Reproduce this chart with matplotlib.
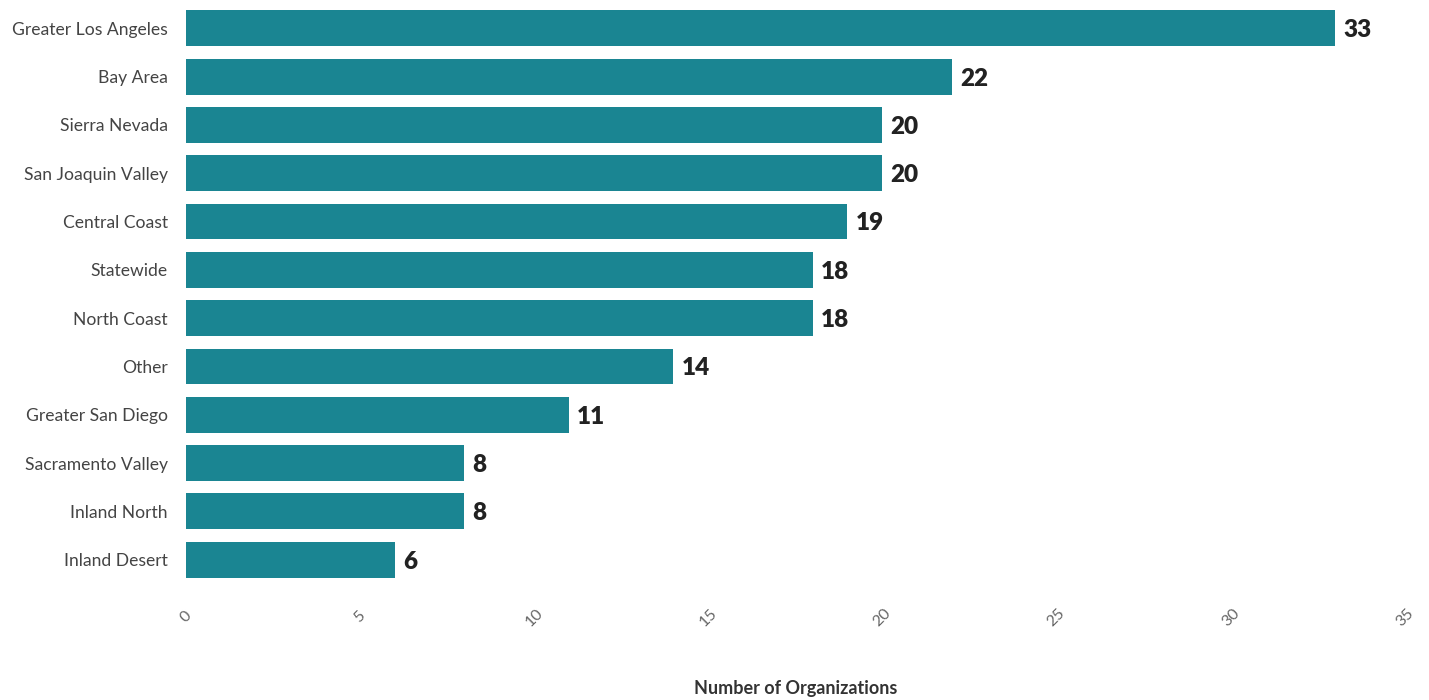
import matplotlib
matplotlib.use("Agg")
import matplotlib.pyplot as plt

plt.rcParams['font.family'] = ['Lato', 'DejaVu Sans']

regions = ["Greater Los Angeles", "Bay Area", "Sierra Nevada", "San Joaquin Valley",
           "Central Coast", "Statewide", "North Coast", "Other", "Greater San Diego",
           "Sacramento Valley", "Inland North", "Inland Desert"]
counts = [33, 22, 20, 20, 19, 18, 18, 14, 11, 8, 8, 6]
xticks = [0, 5, 10, 15, 20, 25, 30, 35]

fig = plt.figure(figsize=(14.29, 7), dpi=100)
ax = fig.add_axes([0.130, 0.166, 0.853, 0.828])

ypos = list(range(len(regions)))
ax.barh(ypos, counts, height=0.74, color="#1a8592")
ax.set_ylim(len(regions) - 0.5, -0.5)
ax.set_xlim(0, 35)

for y, v in zip(ypos, counts):
    ax.text(v + 0.24, y + 0.04, str(v), va="center", ha="left", fontsize=17.5,
            fontweight="heavy", color="#222222")

ax.set_yticks(ypos)
ax.set_yticklabels(regions, fontsize=12.6, color="#444444")
ax.set_xticks(xticks)
ax.set_xticklabels([str(t) for t in xticks], rotation=45, fontsize=11.5,
                   color="#666666", ha="center", va="center")
ax.tick_params(axis="both", length=0)
ax.tick_params(axis="x", pad=24)
ax.tick_params(axis="y", pad=13)

for s in ax.spines.values():
    s.set_visible(False)

ax.set_xlabel("Number of Organizations", fontsize=13, fontweight="bold",
              color="#333333", labelpad=37)

fig.savefig("out.png", dpi=100, facecolor="white")
